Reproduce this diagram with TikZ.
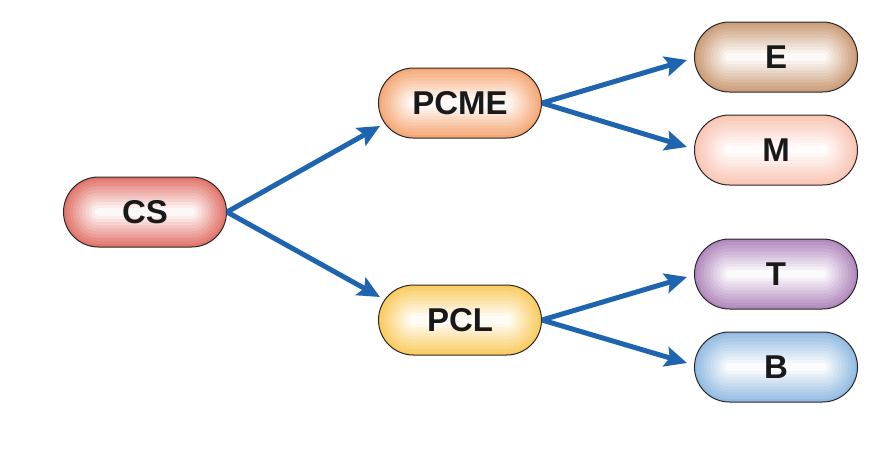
\documentclass[tikz,border=0pt]{standalone}
\usepackage{fontspec}
\setmainfont{Liberation Sans}
\usetikzlibrary{arrows.meta,calc}

\definecolor{csred}{RGB}{226,118,108}
\definecolor{pcmeorange}{RGB}{245,168,118}
\definecolor{pclyellow}{RGB}{250,204,98}
\definecolor{ebrown}{RGB}{204,158,122}
\definecolor{mpink}{RGB}{250,198,182}
\definecolor{tpurple}{RGB}{178,138,190}
\definecolor{bblue}{RGB}{148,188,226}
\definecolor{linkblue}{RGB}{30,100,175}

\tikzset{
  pill/.style={draw=black!85, line width=1pt, rounded corners=35pt,
    minimum width=163pt, minimum height=70pt, inner sep=0pt, text=black!90,
    font=\bfseries\fontsize{33}{38}\selectfont,
    path picture={
      \foreach \k in {0,...,10}{
        \pgfmathsetmacro\d{\k*3.1}
        \pgfmathsetmacro\r{35-\k*3.1}
        \pgfmathtruncatemacro\p{100-\k*9.5}
        \fill[draw=none, #1!\p!white, rounded corners=\r pt]
          ($(path picture bounding box.south west)+(\d pt,\d pt)$) rectangle
          ($(path picture bounding box.north east)-(\d pt,\d pt)$);
      }
    }},
  link/.style={draw=linkblue, line width=5pt,
    -{Stealth[length=22pt,width=20pt,inset=4pt]}}
}

\begin{document}
\begin{tikzpicture}[x=1pt, y=-1pt]
  \useasboundingbox (0,0) rectangle (883,448);
  % Nodes
  \node[pill=csred] (cs) at (145,212) {CS};
  \node[pill=pcmeorange] (pcme) at (460,103) {PCME};
  \node[pill=pclyellow] (pcl) at (460,320) {PCL};
  \node[pill=ebrown] (e) at (776,57) {E};
  \node[pill=mpink] (m) at (776,150) {M};
  \node[pill=tpurple] (t) at (776,274) {T};
  \node[pill=bblue] (b) at (776,367) {B};
  % Arrows
  \draw[link] (cs.east) -- ($(pcme.west)+(2,23)$);
  \draw[link] (cs.east) -- ($(pcl.west)+(2,-23)$);
  \draw[link] (pcme.east) -- ($(e.west)+(-7,3)$);
  \draw[link] (pcme.east) -- ($(m.west)+(-7,-3)$);
  \draw[link] (pcl.east) -- ($(t.west)+(-7,3)$);
  \draw[link] (pcl.east) -- ($(b.west)+(-7,-4)$);
\end{tikzpicture}
\end{document}
